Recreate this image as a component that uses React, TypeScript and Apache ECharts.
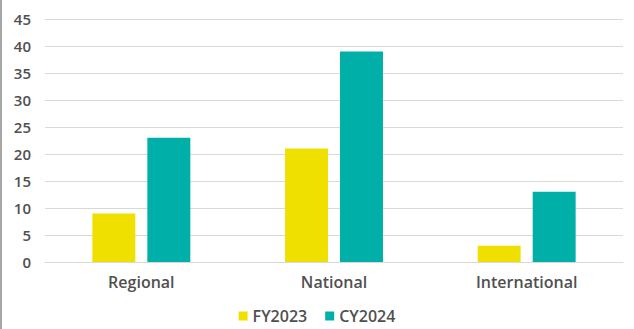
import React, { useEffect, useRef } from "react";
import * as echarts from "echarts";

const categories = ["Regional", "National", "International"];
const fy2023 = [9, 21, 3];
const cy2024 = [23, 39, 13];
const seriesNames = ["FY2023", "CY2024"];

export default function App() {
  const ref = useRef<HTMLDivElement>(null);
  useEffect(() => {
    if (!ref.current) return;
    const chart = echarts.init(ref.current, undefined, { renderer: "svg" });
    const font = "'Open Sans', sans-serif";
    chart.setOption({
      animation: false,
      backgroundColor: "#ffffff",
      grid: { left: 45, right: 11, top: 19, bottom: 67, containLabel: false },
      legend: {
        bottom: 0,
        left: "center",
        itemWidth: 9,
        itemHeight: 9,
        itemGap: 18,
        icon: "rect",
        textStyle: { color: "#505050", fontSize: 16, fontFamily: font, fontWeight: 600 },
        data: seriesNames,
      },
      xAxis: {
        type: "category",
        data: categories,
        axisLine: { show: true, lineStyle: { color: "#d9d9d9", width: 1 } },
        axisTick: { show: false },
        axisLabel: { color: "#505050", fontSize: 16, fontFamily: font, fontWeight: 600, margin: 12 },
      },
      yAxis: {
        type: "value",
        min: 0,
        max: 45,
        interval: 5,
        axisLine: { show: false },
        axisTick: { show: false },
        splitLine: { lineStyle: { color: "#d9d9d9", width: 1 } },
        axisLabel: { color: "#505050", fontSize: 15, fontFamily: font, fontWeight: 600, margin: 14 },
      },
      series: [
        {
          name: seriesNames[0],
          type: "bar",
          data: fy2023,
          barWidth: "22.3%",
          barGap: "28%",
          itemStyle: { color: "#F0E000" },
        },
        {
          name: seriesNames[1],
          type: "bar",
          data: cy2024,
          barWidth: "22.3%",
          itemStyle: { color: "#00B0A8" },
        },
      ],
      graphic: [
        {
          type: "line",
          shape: { x1: 1, y1: 0, x2: 1, y2: 329 },
          style: { stroke: "#a6a6a6", lineWidth: 2 },
        },
      ],
    });
    return () => chart.dispose();
  }, []);
  return (
    <div
      ref={ref}
      style={{ position: "absolute", left: 0, top: 0, width: 634, height: 329 }}
    />
  );
}
